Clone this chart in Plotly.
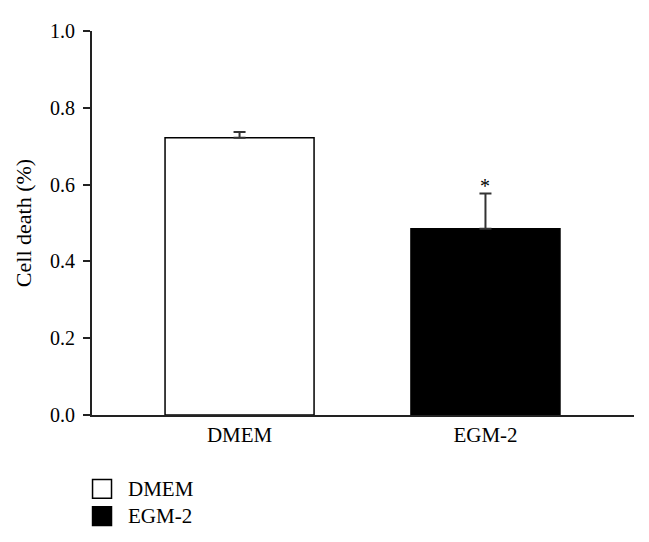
import plotly.graph_objects as go

# data
groups = ["DMEM", "EGM-2"]
cell_death = [0.722, 0.485]
err_up = [0.015, 0.092]
fill_colors = ["white", "black"]
y_ticks = [0.0, 0.2, 0.4, 0.6, 0.8, 1.0]

FONT = "Liberation Serif"

fig = go.Figure()
fig.add_trace(go.Bar(
    x=groups, y=cell_death,
    width=0.606,
    marker=dict(color=fill_colors, line=dict(color="black", width=1.5)),
    error_y=dict(type="data", symmetric=False, array=err_up,
                 arrayminus=[0, 0], color="#333", thickness=2, width=6),
    showlegend=False,
))

# significance star above the EGM-2 error bar
fig.add_annotation(x=groups[1], y=cell_death[1] + err_up[1], text="*",
                   showarrow=False, yanchor="bottom", yshift=-6,
                   font=dict(family=FONT, size=20, color="black"))

# legend drawn under the plot (paper coords, plot height 392px)
for i, (g, c) in enumerate(zip(groups, fill_colors)):
    y0 = -0.168 - i * 0.071
    fig.add_shape(type="rect", xref="paper", yref="paper",
                  x0=0.001, x1=0.036, y0=y0 - 0.049, y1=y0,
                  fillcolor=c, line=dict(color="black", width=1.5))
    fig.add_annotation(xref="paper", yref="paper", x=0.062, y=y0 - 0.025,
                       text=g, showarrow=False, xanchor="left", yanchor="middle",
                       font=dict(family=FONT, size=21, color="black"))

fig.update_layout(
    width=641, height=534,
    margin=dict(l=84, r=15, t=15, b=127),
    plot_bgcolor="white", paper_bgcolor="white",
    font=dict(family=FONT, size=20, color="black"),
    xaxis=dict(range=[-0.6, 1.604], showline=True, linecolor="#222",
               linewidth=2, ticks="", showgrid=False, zeroline=False,
               tickfont=dict(size=21)),
    yaxis=dict(range=[0, 1.0], tickvals=y_ticks, tickformat=".1f",
               showline=True, linecolor="#222", linewidth=2,
               ticks="outside", ticklen=7, tickwidth=2, tickcolor="#222",
               ticklabelstandoff=4, tickfont=dict(size=20),
               showgrid=False, zeroline=False,
               title=dict(text="Cell death (%)", font=dict(size=22), standoff=12)),
)

fig.write_html("out.html")
